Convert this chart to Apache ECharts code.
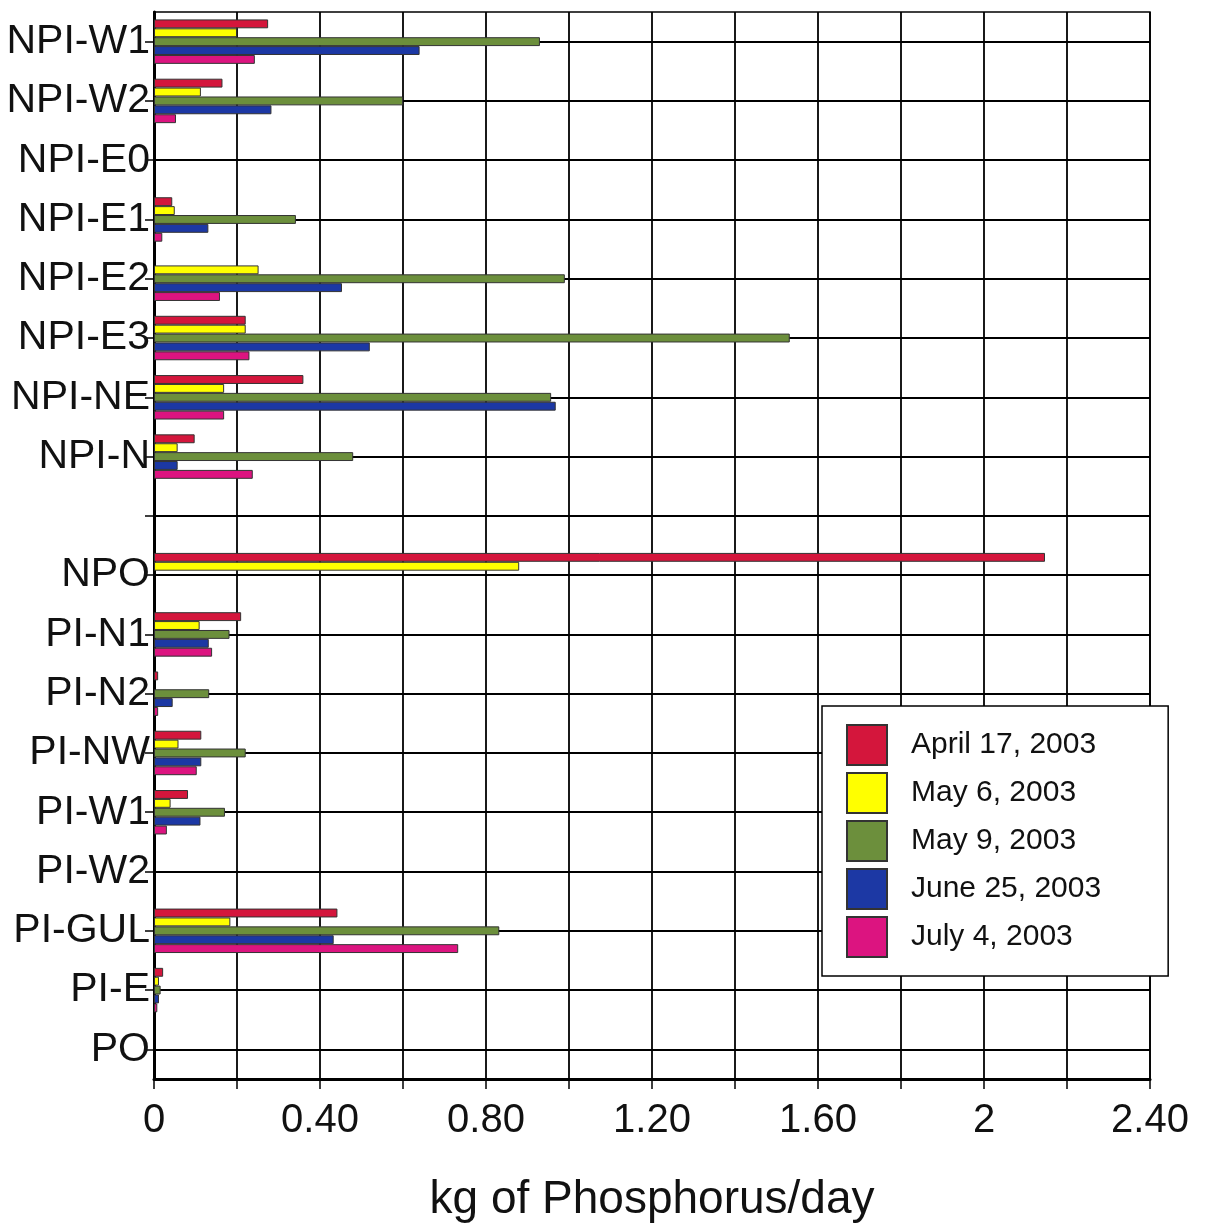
<!DOCTYPE html>
<html>
<head>
<meta charset="utf-8">
<script src="https://cdn.jsdelivr.net/npm/echarts@6/dist/echarts.min.js"></script>
<style>
  html, body { margin: 0; padding: 0; background: #fff; }
  #chart { width: 1214px; height: 1228px; }
</style>
</head>
<body>
<div id="chart"></div>
<script>
// sampling sites, top to bottom ('' is the empty spacer row)
var categories = ['NPI-W1', 'NPI-W2', 'NPI-E0', 'NPI-E1', 'NPI-E2', 'NPI-E3', 'NPI-NE', 'NPI-N', '',
    'NPO', 'PI-N1', 'PI-N2', 'PI-NW', 'PI-W1', 'PI-W2', 'PI-GUL', 'PI-E', 'PO'];
var seriesNames = ['April 17, 2003', 'May 6, 2003', 'May 9, 2003', 'June 25, 2003', 'July 4, 2003'];
// kg of phosphorus / day
var apr17 = [0.275, 0.165, null, 0.044, null, 0.221, 0.36, 0.098, null, 2.147, 0.21, 0.01, 0.114, 0.082, null, 0.442, 0.022, null];
var may6 = [0.20, 0.113, null, 0.05, 0.252, 0.221, 0.169, 0.057, null, 0.88, 0.11, null, 0.059, 0.04, null, 0.184, 0.012, null];
var may9 = [0.93, 0.60, null, 0.342, 0.99, 1.532, 0.957, 0.48, null, null, 0.182, 0.133, 0.221, 0.171, null, 0.832, 0.016, null];
var jun25 = [0.64, 0.283, null, 0.131, 0.453, 0.52, 0.968, 0.057, null, null, 0.132, 0.045, 0.114, 0.112, null, 0.433, 0.012, null];
var jul4 = [0.243, 0.053, null, 0.02, 0.159, 0.23, 0.169, 0.238, null, null, 0.14, 0.01, 0.103, 0.031, null, 0.733, 0.008, null];
var xTickLabels = ['0', '0.40', '0.80', '1.20', '1.60', '2', '2.40'];

var colors = ['#d4163c', '#ffff00', '#6c8f3c', '#1c38a4', '#dc1480'];
var font = "'Liberation Sans', Arial, Helvetica, sans-serif";

var myChart = echarts.init(document.getElementById('chart'));
var values = [apr17, may6, may9, jun25, jul4];
var series = [];
for (var i = 0; i < values.length; i++) {
    series.push({
        name: seriesNames[i],
        type: 'bar',
        data: values[i],
        barGap: '0%',
        barCategoryGap: '25%',
        itemStyle: {color: colors[i], borderColor: '#333', borderWidth: 1}
    });
}

var option = {
    animation: false,
    backgroundColor: '#fff',
    grid: {
        left: 154, right: 64, top: 12, bottom: 148,
        show: true, borderColor: '#000', borderWidth: 1.5
    },
    legend: {
        orient: 'vertical',
        left: 822, top: 706,
        padding: [18, 67, 18, 24],
        icon: 'rect',
        itemWidth: 40, itemHeight: 40, itemGap: 6,
        backgroundColor: '#fff',
        borderColor: '#000', borderWidth: 1.5,
        textStyle: {fontFamily: font, fontSize: 30, color: '#111', padding: [0, 0, 0, 19]},
        data: seriesNames
    },
    xAxis: {
        type: 'value',
        min: 0, max: 2.4, interval: 0.2,
        axisLine: {show: true, lineStyle: {color: '#000', width: 3}},
        axisTick: {show: true, length: 10, lineStyle: {color: '#000', width: 1.5}},
        axisLabel: {
            fontFamily: font, fontSize: 40, color: '#111', margin: 22,
            formatter: function (v, idx) {
                return idx % 2 === 0 ? xTickLabels[idx / 2] : '';
            }
        },
        splitLine: {show: true, lineStyle: {color: '#000', width: 1.8}},
        name: 'kg of Phosphorus/day',
        nameLocation: 'middle',
        nameGap: 98,
        nameTextStyle: {fontFamily: font, fontSize: 46, color: '#111'}
    },
    yAxis: {
        type: 'category',
        inverse: true,
        data: categories,
        axisLine: {show: true, lineStyle: {color: '#000', width: 3}},
        axisTick: {show: true, alignWithLabel: true, length: 9, lineStyle: {color: '#000', width: 1.5}},
        axisLabel: {fontFamily: font, fontSize: 41, color: '#111', margin: 4},
        splitLine: {show: true, alignWithLabel: true, lineStyle: {color: '#000', width: 1.8}}
    },
    series: series
};
myChart.setOption(option);
</script>
</body>
</html>
